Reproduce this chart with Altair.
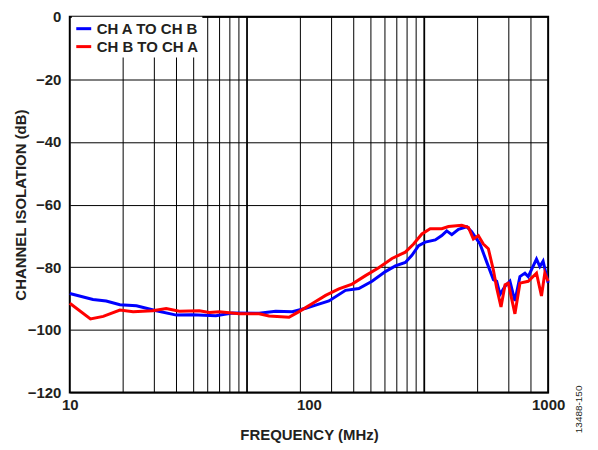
import math
import altair as alt
import pandas as pd

# ---- data ----
blue_freq = [10, 12.5, 14.2, 16.2, 19.0, 23.0, 27.9, 32.5, 40.8, 47.8, 61.9, 72.6, 85.2,
             96.9, 106.7, 121.2, 142.2, 161.6, 183.5, 208.7, 229.8, 252.9, 269.4, 287.3,
             306.3, 337.4, 359.2, 376.7, 395.5, 421.7, 456.8, 479.0, 519.0, 553.3, 590.2,
             609.3, 629.3, 660.5, 692.2, 726.3, 762.1, 799.7, 825.4, 893.9, 923.4, 952.5, 1000]
blue_db = [-88.4, -90.3, -90.8, -92.0, -92.3, -93.9, -95.3, -95.2, -95.5, -94.6, -94.7, -94.1, -94.2,
           -93.1, -92.1, -90.8, -87.4, -86.8, -84.5, -81.4, -79.6, -78.5, -76.2, -73.1,
           -72.0, -71.3, -69.9, -68.4, -69.6, -67.9, -67.1, -68.7, -72.6, -78.3, -84.0,
           -84.5, -88.7, -86.1, -84.5, -90.8, -83.0, -81.9, -83.0, -77.4, -79.8, -78.1, -85.0]

red_freq = [10, 12.2, 13.8, 16.2, 18.4, 22.2, 25.3, 28.7, 34.8, 38.3, 42.2, 51.1, 61.9, 68.1,
            82.5, 90.9, 103.3, 117.4, 133.4, 151.5, 172.3, 195.7, 222.4, 252.9, 273.8, 296.6,
            321.2, 359.2, 383.1, 435.5, 464.2, 486.9, 510.7, 535.9, 562.3, 590.2, 609.3, 635.2,
            660.5, 681.3, 726.3, 762.1, 825.4, 893.9, 937.9, 968.4, 1000]
red_db = [-91.5, -96.5, -95.7, -93.7, -94.2, -93.9, -93.2, -94.1, -93.9, -94.5, -94.2, -94.9, -94.9, -95.6,
          -96.0, -94.2, -91.6, -89.0, -86.9, -85.4, -82.7, -80.2, -77.2, -75.2, -72.6, -69.4,
          -67.7, -67.7, -67.0, -66.6, -67.3, -71.0, -69.9, -72.6, -74.1, -80.9, -86.6, -92.7,
          -85.6, -85.1, -94.9, -85.1, -84.5, -81.9, -89.2, -81.9, -84.5]

series_names = ["CH A TO CH B", "CH B TO CH A"]
series_colors = ["#0000FF", "#FF0000"]

x_tick_values = [10, 100, 1000]
y_tick_values = [-120, -100, -80, -60, -40, -20, 0]

# The original figure's vertical grid follows a 10 MHz – 5 GHz log grid
grid_minor_g = [20, 30, 40, 50, 60, 70, 80, 90, 200, 300, 400, 500, 600, 700, 800, 900,
                2000, 3000, 4000]
grid_major_g = [100, 1000]
ratio = 2 / math.log10(500)
grid_minor = [10 * (g / 10) ** ratio for g in grid_minor_g]
grid_major = [10 * (g / 10) ** ratio for g in grid_major_g]

df = pd.concat([
    pd.DataFrame({"freq": blue_freq, "db": blue_db, "series": series_names[0]}),
    pd.DataFrame({"freq": red_freq, "db": red_db, "series": series_names[1]}),
])

FONT = "Liberation Sans"

xscale = alt.Scale(type="log", domain=[10, 1000])
yscale = alt.Scale(domain=[-120, 0])

x_enc = alt.X("freq:Q", scale=xscale,
              axis=alt.Axis(values=x_tick_values, format="d", grid=False, ticks=False,
                            domain=False, title="FREQUENCY (MHz)", labelPadding=5,
                            labelFlush=False, titlePadding=15))
y_enc = alt.Y("db:Q", scale=yscale,
              axis=alt.Axis(values=y_tick_values, grid=True, gridColor="black", gridWidth=1,
                            gridOpacity=1, ticks=False, domain=False, labelFlush=False,
                            title="CHANNEL ISOLATION (dB)", labelPadding=9, titlePadding=-1))

grid_minor_layer = alt.Chart(pd.DataFrame({"freq": grid_minor})).mark_rule(
    color="black", strokeWidth=1).encode(x=alt.X("freq:Q", scale=xscale))
grid_major_layer = alt.Chart(pd.DataFrame({"freq": grid_major})).mark_rule(
    color="black", strokeWidth=1.8).encode(x=alt.X("freq:Q", scale=xscale))

lines = alt.Chart(df).mark_line(strokeWidth=3).encode(
    x=x_enc,
    y=y_enc,
    color=alt.Color("series:N",
                    scale=alt.Scale(domain=series_names, range=series_colors),
                    legend=alt.Legend(title=None, orient="none", legendX=2, legendY=0,
                                      fillColor="white", padding=3, symbolType="stroke",
                                      symbolStrokeWidth=3, symbolSize=225,
                                      labelFontSize=15, labelFont=FONT, labelFontWeight="bold",
                                      labelColor="#231f20", labelOffset=4, rowPadding=1)),
)

note = alt.Chart(pd.DataFrame({"t": ["13488-150"]})).mark_text(
    angle=270, fontSize=10, font=FONT, color="#231f20", align="center", baseline="middle"
).encode(x=alt.value(511), y=alt.value(394), text="t:N")

chart = alt.layer(grid_minor_layer, grid_major_layer, lines, note).properties(
    width=480, height=377,
    autosize=alt.AutoSizeParams(type="none"),
    padding={"left": 62, "top": 8, "right": 42, "bottom": 50},
).configure_view(stroke="black", strokeWidth=2).configure_axis(
    labelFont=FONT, labelFontSize=15, labelFontWeight="bold", labelColor="#231f20",
    titleFont=FONT, titleFontSize=15, titleFontWeight="bold", titleColor="#231f20",
)

chart.save("out.html", embed_options={"renderer": "svg", "actions": False})
